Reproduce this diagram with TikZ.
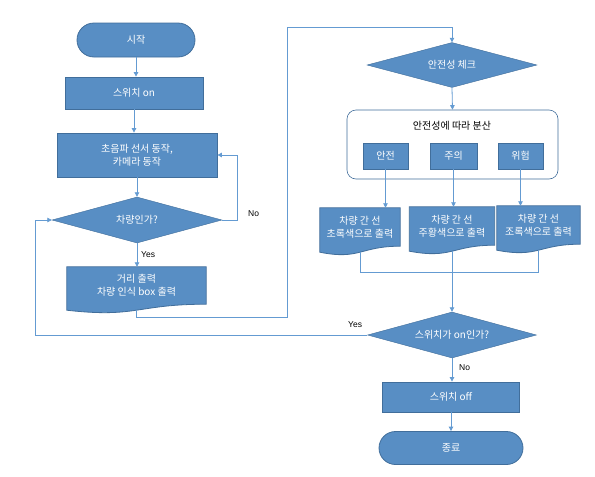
\documentclass[tikz,border=0pt]{standalone}
\usepackage{fontspec}
\setmainfont{Noto Sans CJK KR}
\newfontfamily\lab{Liberation Sans}
\usetikzlibrary{shapes.geometric,shapes.misc,calc,arrows.meta,backgrounds}
\definecolor{boxfill}{RGB}{88,142,196}
\definecolor{boxline}{RGB}{65,110,155}
\definecolor{conn}{RGB}{100,155,210}
\tikzset{
 base/.style={font=\fontsize{10}{13}\selectfont, text=white, align=center, inner sep=0pt},
 proc/.style={base, rectangle, fill=boxfill, draw=boxline, line width=0.8pt},
 term/.style={base, rounded rectangle, fill=boxfill, draw=boxline, line width=0.8pt},
 dec/.style={base, diamond, aspect=3.7, fill=boxfill, draw=boxline, line width=0.4pt},
 docbody/.style={base, rectangle},
 conn/.style={draw=conn, line width=0.8pt},
 arr/.style={conn, -{Triangle[length=4.5pt,width=4.5pt]}},
 lbl/.style={font=\lab\fontsize{8.5}{10}\selectfont, inner sep=0pt, anchor=west},
}
\newcommand{\docshape}[1]{%
 \path[fill=boxfill, draw=boxline, line width=0.8pt] (#1.north west) -- (#1.north east) -- (#1.south east)
   .. controls (#1.south) and ($(#1.south)+(0,14)$) .. ($(#1.south west)+(0,6)$) -- cycle;
 \coordinate (#1-b) at ($(#1.south)+(0,6)$);}
\begin{document}
\begin{tikzpicture}[x=1pt,y=-1pt]
\useasboundingbox (0,0) rectangle (595,477);
% left column
\node[term, minimum width=118, minimum height=34] (start) at (136,40) {시작};
\node[proc, minimum width=138, minimum height=32] (swon) at (134,93) {스위치 on};
\node[proc, minimum width=160, minimum height=44] (sensor) at (137,155) {초음파 선서 동작,\\카메라 동작};
\node[dec, minimum width=170, minimum height=46] (car) at (137,220) {차량인가?};
\node[docbody, minimum width=139, minimum height=37] (dist) at (136.5,285.5) {거리 출력\\차량 인식 box 출력};
% right column
\node[dec, minimum width=170, minimum height=45] (chk) at (452,65) {안전성 체크};
\node[draw=boxline, line width=0.6pt, rounded corners=9pt, fill=white, minimum width=211, minimum height=69, inner sep=0pt] (cont) at (452.5,144.5) {};
\node[base, text=black] (title) at (452,126) {안전성에 따라 분산};
\node[proc, minimum width=45, minimum height=26] (safe) at (385.5,156) {안전};
\node[proc, minimum width=47, minimum height=26] (warn) at (453.5,156) {주의};
\node[proc, minimum width=45, minimum height=26] (danger) at (520.5,156) {위험};
\node[docbody, minimum width=80, minimum height=38] (dA) at (360,227) {차량 간 선\\초록색으로 출력};
\node[docbody, minimum width=85, minimum height=38] (dB) at (452,226) {차량 간 선\\주황색으로 출력};
\node[docbody, minimum width=83, minimum height=38] (dC) at (538.5,225) {차량 간 선\\조록색으로 출력};
\node[dec, minimum width=169, minimum height=46] (sw) at (452,335) {스위치가 on인가?};
\node[proc, minimum width=137, minimum height=30] (off) at (451,397) {스위치 off};
\node[term, minimum width=144, minimum height=33] (end) at (451,448) {종료};
\begin{scope}[on background layer]
\docshape{dist}
\docshape{dA}
\docshape{dB}
\docshape{dC}
\end{scope}
% labels
\node[lbl] (yes1) at (141,255) {Yes};
\node[lbl] (no1) at (248,214) {No};
\node[lbl] (yes2) at (348,325) {Yes};
\node[lbl] (no2) at (459,368) {No};
% connectors
\coordinate (noR) at (237,220);
\coordinate (r1) at (287,317);
\coordinate (r2) at (287,27);
\coordinate (mrg) at (0,272);
\coordinate (lft) at (35,333);
\draw[arr] (start.south) -- (start.south |- swon.north);
\draw[arr] (swon.south) -- (swon.south |- sensor.north);
\draw[arr] (sensor.south) -- (sensor.south |- car.north);
\draw[arr] (car.south) -- (car.south |- dist.north);
\draw[arr] (car.east) -- (noR) |- (sensor.east);
\draw[arr] (dist-b) |- (r1) -- (r2) -| (chk.north);
\draw[arr] (chk.south) -- (cont.north);
\draw[arr] (safe.south) -- (safe.south |- dA.north);
\draw[arr] (warn.south) -- (warn.south |- dB.north);
\draw[arr] (danger.south) -- (danger.south |- dC.north);
\draw[conn] (dA-b) -- (dA-b |- mrg) -- (dC-b |- mrg) -- (dC-b);
\draw[arr] (dB-b) -- (sw.north);
\draw[arr] (sw.west) -- (sw.west -| lft) |- (car.west);
\draw[arr] (sw.south) -- (sw.south |- off.north);
\draw[arr] (off.south) -- (off.south |- end.north);
\end{tikzpicture}
\end{document}
